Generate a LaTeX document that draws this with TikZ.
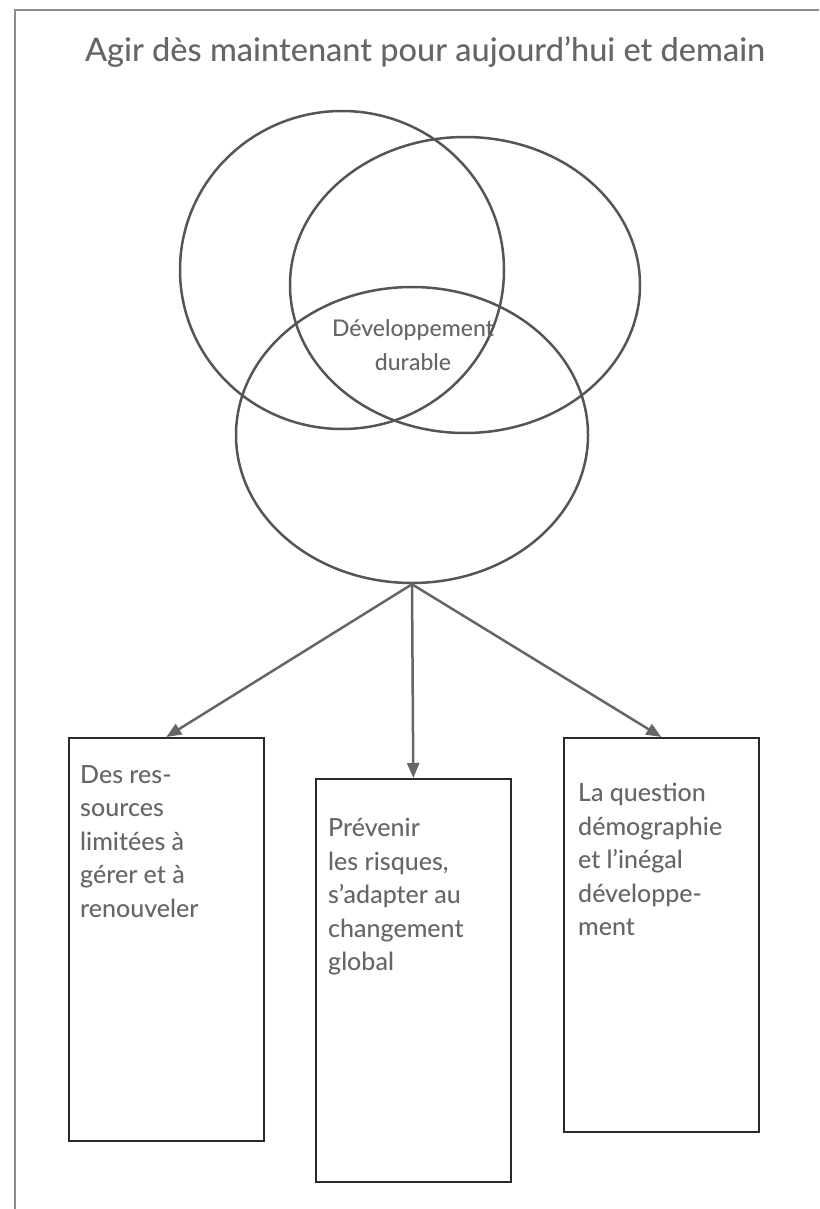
\documentclass[tikz,border=0pt]{standalone}
\usepackage{fontspec}
\setmainfont{Lato}[UprightFont={* Medium}]
\usetikzlibrary{shapes.geometric,arrows.meta}
\definecolor{ink}{HTML}{666666}
\definecolor{rim}{HTML}{555555}
\definecolor{boxline}{HTML}{2A2A2A}
\begin{document}
\begin{tikzpicture}[x=1pt,y=-1pt,
  ring/.style={draw=rim,line width=2.5pt,ellipse,inner sep=0pt},
  card/.style={draw=boxline,line width=1.6pt,minimum width=195pt,anchor=north west,inner sep=0pt},
  cardtext/.style={anchor=north west,align=left,text=ink,font=\fontsize{25}{33.5}\selectfont,inner sep=0pt},
  link/.style={draw=ink,line width=2.5pt,-{Triangle[length=15pt,width=12pt]}}]
\useasboundingbox (0,0) rectangle (819,1209);
% frame edges
\coordinate (ftl) at (15,10);
\coordinate (ftr) at (819,10);
\coordinate (fbl) at (15,1209);
\draw[draw=gray!90,line width=1.4pt] (ftr) -- (ftl) -- (fbl);
% title
\node[text=ink,font=\fontsize{32.5}{38}\selectfont] (title) at (425,52) {Agir dès maintenant pour aujourd’hui et demain};
% three overlapping circles
\node[ring,minimum width=324pt,minimum height=318pt] (eco) at (342,270) {};
\node[ring,minimum width=350pt,minimum height=296pt] (soc) at (465,285) {};
\node[ring,minimum width=352pt,minimum height=296pt] (env) at (412,435) {};
\node[text=ink,align=center,font=\fontsize{23}{34}\selectfont] (dd) at (413,345) {Développement\\durable};
% boxes
\node[card,minimum height=403pt] (b1) at (68,737) {};
\node[card,minimum height=403pt] (b2) at (315,778) {};
\node[card,minimum height=394pt] (b3) at (563,737) {};
\node[cardtext] (t1) at (80,765) {Des res-\\sources\\limitées à\\gérer et à\\renouveler};
\node[cardtext] (t2) at (328,818) {Prévenir\\les risques,\\s’adapter au\\changement\\global};
\node[cardtext] (t3) at (578,783) {La question\\démographie\\et l’inégal\\développe-\\ment};
% connectors
\draw[link] (env.south) -- (b1.north);
\draw[link] (env.south) -- (b2.north);
\draw[link] (env.south) -- (b3.north);
\end{tikzpicture}
\end{document}
